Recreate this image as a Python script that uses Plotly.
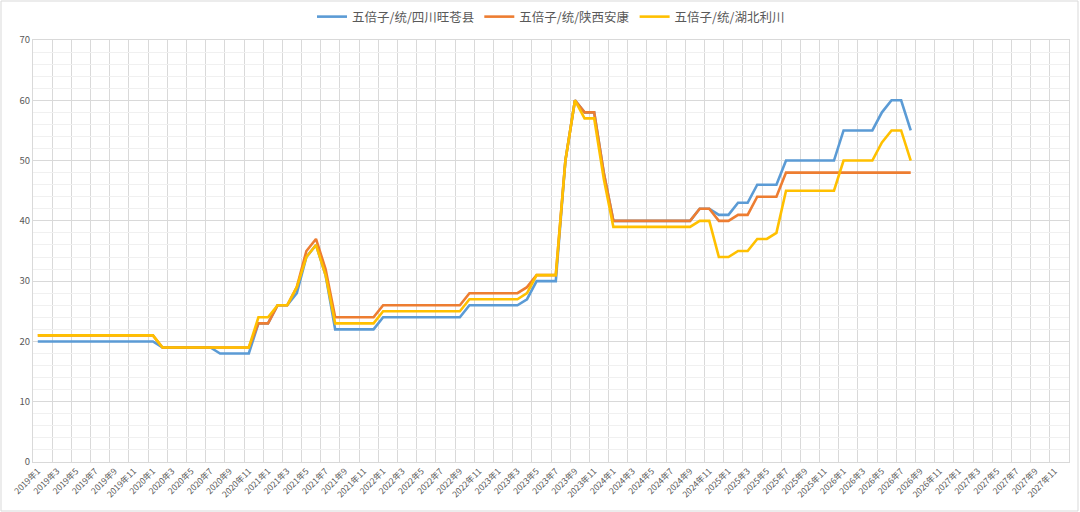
import plotly.graph_objects as go

# 月份类目（2019年1 - 2027年12），横轴按序号排列
months = [f"{y}年{m}" for y in range(2019, 2028) for m in range(1, 13)]
month_idx = list(range(len(months)))

name_sc = "五倍子/统/四川旺苍县"
name_sx = "五倍子/统/陕西安康"
name_hb = "五倍子/统/湖北利川"

# 2019年1 - 2026年8 的价格
sichuan = [20, 20, 20, 20, 20, 20, 20, 20, 20, 20, 20, 20,
           20, 19, 19, 19, 19, 19, 19, 18, 18, 18, 18, 23,
           23, 26, 26, 28, 34, 36, 31, 22, 22, 22, 22, 22,
           24, 24, 24, 24, 24, 24, 24, 24, 24, 26, 26, 26,
           26, 26, 26, 27, 30, 30, 30, 50, 60, 58, 58, 48,
           40, 40, 40, 40, 40, 40, 40, 40, 40, 42, 42, 41,
           41, 43, 43, 46, 46, 46, 50, 50, 50, 50, 50, 50,
           55, 55, 55, 55, 58, 60, 60, 55]
shaanxi = [21, 21, 21, 21, 21, 21, 21, 21, 21, 21, 21, 21,
           21, 19, 19, 19, 19, 19, 19, 19, 19, 19, 19, 23,
           23, 26, 26, 29, 35, 37, 32, 24, 24, 24, 24, 24,
           26, 26, 26, 26, 26, 26, 26, 26, 26, 28, 28, 28,
           28, 28, 28, 29, 31, 31, 31, 50, 60, 58, 58, 48,
           40, 40, 40, 40, 40, 40, 40, 40, 40, 42, 42, 40,
           40, 41, 41, 44, 44, 44, 48, 48, 48, 48, 48, 48,
           48, 48, 48, 48, 48, 48, 48, 48]
hubei = [21, 21, 21, 21, 21, 21, 21, 21, 21, 21, 21, 21,
         21, 19, 19, 19, 19, 19, 19, 19, 19, 19, 19, 24,
         24, 26, 26, 29, 34, 36, 31, 23, 23, 23, 23, 23,
         25, 25, 25, 25, 25, 25, 25, 25, 25, 27, 27, 27,
         27, 27, 27, 28, 31, 31, 31, 50, 60, 57, 57, 47,
         39, 39, 39, 39, 39, 39, 39, 39, 39, 40, 40, 34,
         34, 35, 35, 37, 37, 38, 45, 45, 45, 45, 45, 45,
         50, 50, 50, 50, 53, 55, 55, 50]

tick_pos = month_idx[::2]
tick_labels = months[::2]

fig = go.Figure()
for name, vals, color in [(name_sc, sichuan, "#5B9BD5"),
                          (name_sx, shaanxi, "#ED7D31"),
                          (name_hb, hubei, "#FFC000")]:
    fig.add_trace(go.Scatter(
        x=month_idx[:len(vals)], y=vals, name=name, mode="lines",
        text=months[:len(vals)], hovertemplate="%{text}: %{y}",
        line=dict(color=color, width=2.6)
    ))

fig.update_layout(
    width=1080, height=512,
    paper_bgcolor="white", plot_bgcolor="white",
    margin=dict(l=33, r=11, t=40, b=50, autoexpand=False),
    font=dict(family="Noto Sans CJK SC, sans-serif", color="#595959"),
    legend=dict(orientation="h", x=0.5, xanchor="center",
                yref="container", y=1 - 17 / 512, yanchor="middle",
                font=dict(size=12.5, color="#595959"), itemwidth=30,
                bgcolor="rgba(0,0,0,0)"),
)

fig.update_xaxes(
    range=[-0.5, len(months) - 0.5],
    tickmode="array", tickvals=tick_pos, ticktext=tick_labels,
    tickangle=-45, tickfont=dict(size=8.5, color="#595959"),
    showgrid=False,
    minor=dict(tick0=-0.5, dtick=2, showgrid=True, gridcolor="#d9d9d9", gridwidth=1),
    showline=True, linecolor="#d9d9d9", mirror=True,
    ticks="", zeroline=False,
)
fig.update_yaxes(
    range=[0, 70], dtick=10,
    tickfont=dict(size=9.5, color="#595959"),
    showgrid=True, gridcolor="#d9d9d9", gridwidth=1,
    minor=dict(dtick=2, showgrid=True, gridcolor="#f0f0f0", gridwidth=1),
    showline=True, linecolor="#d9d9d9", mirror=True,
    ticks="", zeroline=False,
)

# 外框
fig.add_shape(type="rect", xref="paper", yref="paper",
              x0=-32 / 1036, x1=1 + 9 / 1036, y0=-49 / 422, y1=1 + 39 / 422,
              line=dict(color="#d9d9d9", width=1))

fig.write_html("out.html", config={"displayModeBar": False},
               post_script="document.body.style.margin='0';")
